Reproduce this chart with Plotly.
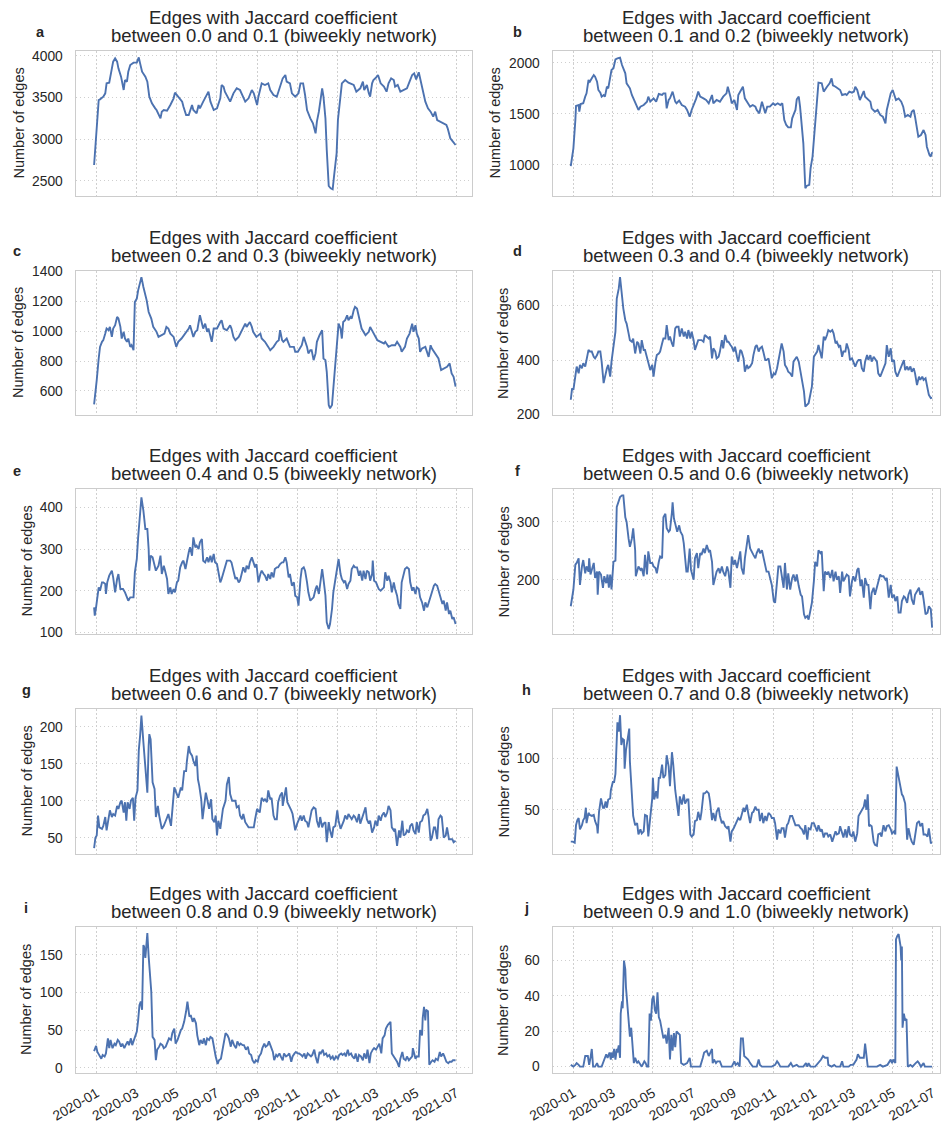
import pandas as pd
import plotly.graph_objects as go

W, H = 943, 1128
START = pd.Timestamp("2019-12-28")

# (day offset from START, number of edges)
edges_00_01 = [(0, 2688), (2, 2908), (4, 3128), (7, 3468), (9, 3476), (14, 3508), (17, 3548), (19, 3668), (23, 3676), (27, 3868), (29, 3928), (32, 3968), (35, 3928), (37, 3848), (41, 3748), (45, 3588), (47, 3708), (50, 3688), (52, 3808), (55, 3888), (60, 3916), (65, 3916), (68, 3980), (70, 3908), (73, 3808), (78, 3748), (81, 3688), (84, 3508), (88, 3428), (93, 3368), (95, 3348), (101, 3248), (103, 3328), (106, 3348), (111, 3340), (116, 3408), (121, 3488), (123, 3556), (126, 3528), (131, 3468), (134, 3448), (136, 3388), (140, 3288), (144, 3288), (149, 3408), (151, 3348), (156, 3308), (159, 3408), (161, 3368), (166, 3448), (172, 3548), (174, 3568), (177, 3448), (182, 3348), (187, 3368), (192, 3488), (194, 3648), (197, 3628), (199, 3568), (205, 3468), (207, 3448), (212, 3548), (217, 3608), (222, 3588), (225, 3528), (230, 3448), (235, 3488), (240, 3588), (243, 3548), (248, 3408), (250, 3508), (253, 3628), (255, 3668), (260, 3648), (265, 3668), (268, 3588), (273, 3528), (278, 3508), (283, 3648), (287, 3728), (291, 3768), (293, 3688), (298, 3668), (301, 3548), (306, 3508), (311, 3548), (314, 3668), (318, 3668), (321, 3528), (324, 3348), (329, 3248), (333, 3188), (337, 3068), (339, 3208), (342, 3328), (344, 3428), (347, 3608), (349, 3508), (352, 3248), (354, 2868), (357, 2436), (360, 2408), (363, 2396), (365, 2548), (369, 2828), (371, 3228), (375, 3508), (377, 3668), (382, 3708), (387, 3676), (395, 3648), (399, 3568), (405, 3608), (409, 3688), (411, 3588), (415, 3648), (418, 3548), (420, 3508), (423, 3668), (425, 3708), (428, 3728), (432, 3768), (436, 3668), (441, 3628), (445, 3568), (448, 3668), (452, 3728), (456, 3708), (458, 3628), (462, 3648), (466, 3568), (471, 3588), (476, 3608), (480, 3688), (484, 3768), (487, 3788), (490, 3716), (494, 3800), (497, 3688), (501, 3528), (504, 3448), (508, 3368), (512, 3328), (516, 3268), (519, 3328), (522, 3228), (527, 3208), (532, 3188), (536, 3168), (538, 3128), (542, 3008), (546, 2968), (550, 2928)]

edges_01_02 = [(0, 990), (2, 1098), (4, 1163), (7, 1440), (8, 1577), (12, 1586), (13, 1521), (15, 1596), (19, 1603), (22, 1668), (24, 1700), (27, 1831), (29, 1814), (32, 1847), (35, 1879), (37, 1863), (40, 1814), (42, 1733), (45, 1707), (47, 1668), (50, 1684), (52, 1668), (55, 1765), (57, 1749), (60, 1847), (62, 1928), (65, 1945), (68, 2033), (71, 2042), (75, 2049), (78, 1977), (83, 1896), (85, 1798), (90, 1749), (93, 1684), (98, 1619), (103, 1538), (106, 1570), (111, 1586), (116, 1619), (118, 1668), (121, 1619), (126, 1651), (130, 1619), (134, 1694), (139, 1684), (141, 1700), (144, 1700), (146, 1554), (149, 1635), (151, 1651), (155, 1717), (159, 1619), (161, 1603), (165, 1629), (169, 1586), (174, 1570), (177, 1538), (181, 1472), (184, 1538), (187, 1586), (191, 1651), (194, 1717), (197, 1668), (202, 1651), (206, 1635), (210, 1603), (215, 1684), (217, 1603), (222, 1635), (227, 1619), (232, 1668), (237, 1700), (239, 1765), (243, 1668), (245, 1603), (249, 1635), (253, 1538), (255, 1684), (259, 1733), (262, 1765), (265, 1651), (269, 1603), (273, 1570), (277, 1586), (281, 1570), (283, 1538), (287, 1505), (291, 1619), (293, 1570), (296, 1505), (299, 1570), (303, 1570), (308, 1603), (311, 1586), (315, 1603), (319, 1586), (322, 1603), (325, 1440), (328, 1391), (331, 1368), (335, 1368), (337, 1456), (339, 1489), (342, 1538), (344, 1642), (347, 1668), (349, 1570), (352, 1375), (354, 1212), (357, 772), (359, 795), (363, 805), (365, 967), (368, 1082), (371, 1310), (374, 1538), (376, 1733), (377, 1805), (382, 1798), (385, 1717), (390, 1765), (394, 1798), (397, 1847), (399, 1779), (403, 1765), (406, 1749), (410, 1733), (413, 1684), (418, 1694), (420, 1684), (424, 1717), (428, 1707), (431, 1717), (433, 1765), (436, 1733), (440, 1635), (443, 1684), (446, 1723), (448, 1668), (451, 1651), (456, 1619), (458, 1554), (463, 1521), (467, 1538), (471, 1489), (475, 1472), (479, 1407), (481, 1538), (484, 1635), (487, 1700), (490, 1733), (492, 1684), (495, 1635), (499, 1651), (503, 1619), (506, 1570), (509, 1472), (513, 1489), (517, 1472), (519, 1521), (522, 1538), (524, 1472), (527, 1358), (529, 1277), (533, 1293), (537, 1342), (540, 1293), (542, 1179), (546, 1098), (548, 1082), (550, 1125)]

edges_02_03 = [(0, 509), (2, 583), (4, 672), (7, 817), (9, 895), (12, 929), (14, 940), (17, 984), (19, 1018), (22, 1007), (24, 1029), (27, 962), (29, 1018), (32, 1040), (35, 1096), (37, 1085), (40, 1029), (42, 951), (45, 996), (47, 951), (50, 929), (52, 951), (55, 895), (57, 906), (60, 873), (62, 1196), (65, 1219), (67, 1274), (70, 1330), (72, 1363), (75, 1297), (78, 1241), (80, 1207), (83, 1129), (85, 1107), (87, 1085), (90, 1029), (93, 1007), (95, 996), (98, 962), (103, 973), (107, 984), (110, 1029), (113, 1018), (116, 984), (121, 962), (125, 895), (128, 929), (133, 951), (139, 984), (144, 1018), (146, 1040), (149, 984), (151, 962), (154, 996), (157, 1007), (161, 1107), (164, 1051), (166, 1018), (169, 1051), (172, 996), (174, 1018), (179, 929), (182, 1018), (187, 1018), (192, 1062), (194, 1074), (197, 1018), (202, 1007), (207, 1040), (209, 1018), (212, 962), (215, 940), (220, 962), (225, 1007), (230, 1051), (232, 1029), (237, 1062), (240, 1029), (242, 996), (247, 962), (253, 984), (255, 951), (260, 929), (265, 895), (268, 873), (273, 895), (278, 929), (281, 940), (283, 1007), (286, 940), (288, 929), (293, 951), (298, 895), (304, 895), (306, 862), (310, 862), (314, 895), (316, 906), (319, 962), (321, 940), (324, 895), (326, 851), (329, 873), (331, 873), (334, 806), (337, 851), (339, 929), (343, 973), (347, 1007), (349, 817), (352, 806), (354, 728), (357, 505), (359, 483), (362, 505), (364, 616), (367, 795), (370, 984), (372, 1051), (375, 1018), (377, 951), (379, 1062), (382, 1074), (385, 1107), (387, 1074), (390, 1096), (392, 1085), (395, 1140), (397, 1163), (400, 1152), (402, 1107), (405, 1051), (407, 1018), (413, 973), (418, 996), (420, 1029), (423, 1007), (428, 962), (431, 940), (436, 929), (441, 918), (443, 929), (448, 895), (453, 906), (458, 906), (461, 929), (466, 895), (468, 862), (473, 895), (476, 951), (480, 984), (484, 1051), (486, 996), (489, 1040), (491, 984), (494, 951), (496, 862), (499, 884), (504, 895), (509, 828), (512, 906), (514, 884), (519, 851), (524, 817), (528, 739), (532, 750), (537, 761), (541, 784), (544, 717), (547, 694), (550, 628)]

edges_03_04 = [(0, 254), (2, 296), (4, 290), (7, 333), (9, 376), (12, 351), (14, 382), (17, 370), (19, 388), (22, 376), (24, 406), (27, 437), (29, 431), (32, 431), (35, 412), (37, 406), (40, 418), (42, 431), (45, 431), (47, 394), (50, 315), (52, 339), (55, 370), (57, 382), (60, 339), (62, 394), (65, 455), (68, 504), (70, 626), (73, 662), (75, 705), (78, 626), (80, 589), (83, 546), (85, 534), (88, 498), (90, 473), (93, 467), (95, 479), (98, 424), (101, 467), (103, 461), (106, 424), (108, 473), (111, 437), (113, 437), (116, 412), (118, 394), (121, 363), (124, 382), (126, 339), (129, 394), (131, 418), (134, 424), (136, 431), (139, 461), (141, 479), (144, 479), (146, 528), (149, 473), (151, 486), (154, 461), (156, 449), (159, 516), (161, 522), (164, 522), (166, 486), (169, 516), (172, 486), (174, 504), (177, 479), (179, 510), (182, 479), (184, 504), (187, 473), (189, 437), (194, 473), (199, 473), (202, 467), (204, 492), (210, 479), (212, 486), (215, 406), (217, 443), (220, 431), (222, 406), (225, 412), (227, 431), (230, 473), (232, 443), (235, 492), (238, 467), (240, 467), (243, 455), (245, 449), (248, 431), (250, 449), (253, 412), (255, 394), (258, 437), (260, 431), (263, 406), (265, 357), (268, 382), (270, 370), (273, 376), (276, 388), (278, 418), (281, 449), (283, 455), (286, 431), (288, 443), (291, 449), (293, 431), (296, 400), (298, 400), (301, 406), (304, 363), (306, 333), (309, 351), (311, 345), (314, 370), (316, 400), (319, 437), (321, 461), (324, 431), (326, 382), (329, 370), (331, 357), (334, 351), (337, 339), (339, 394), (342, 406), (344, 412), (347, 394), (350, 351), (352, 321), (355, 284), (357, 229), (360, 238), (362, 241), (365, 278), (367, 302), (370, 412), (372, 418), (375, 431), (377, 455), (380, 431), (382, 406), (385, 486), (387, 473), (390, 492), (392, 510), (395, 504), (398, 510), (400, 498), (403, 461), (405, 467), (408, 449), (410, 455), (413, 412), (415, 431), (418, 431), (420, 461), (423, 437), (425, 400), (428, 406), (430, 394), (433, 376), (436, 394), (438, 400), (441, 400), (443, 370), (446, 357), (448, 394), (451, 418), (453, 400), (456, 418), (458, 394), (461, 412), (463, 406), (466, 394), (468, 351), (471, 339), (473, 351), (476, 370), (479, 388), (481, 455), (484, 412), (487, 443), (489, 394), (492, 400), (494, 357), (497, 339), (499, 351), (502, 363), (504, 382), (507, 400), (509, 363), (512, 376), (514, 363), (517, 376), (519, 357), (522, 370), (524, 351), (527, 308), (530, 339), (532, 327), (535, 339), (537, 327), (540, 333), (543, 302), (545, 272), (548, 260), (550, 262)]

edges_04_05 = [(0, 160), (1, 140), (3, 160), (5, 192), (7, 208), (9, 200), (12, 220), (14, 220), (17, 216), (18, 192), (20, 220), (23, 236), (27, 248), (29, 232), (32, 196), (35, 228), (37, 240), (40, 204), (44, 204), (47, 196), (50, 184), (52, 176), (55, 184), (60, 184), (62, 244), (65, 276), (67, 328), (70, 384), (72, 424), (75, 392), (78, 348), (81, 348), (83, 300), (84, 248), (86, 284), (89, 280), (92, 260), (94, 248), (98, 260), (101, 284), (103, 240), (106, 260), (108, 248), (111, 228), (113, 192), (116, 208), (118, 192), (121, 204), (123, 196), (126, 220), (128, 224), (131, 256), (134, 268), (136, 272), (139, 252), (141, 272), (144, 292), (146, 304), (149, 284), (151, 328), (154, 304), (156, 308), (159, 300), (161, 316), (164, 324), (166, 272), (169, 268), (172, 280), (174, 268), (177, 284), (179, 268), (182, 288), (184, 268), (187, 264), (189, 244), (192, 220), (194, 228), (197, 244), (199, 256), (202, 272), (207, 272), (209, 268), (212, 248), (215, 228), (217, 232), (220, 220), (222, 224), (225, 248), (227, 256), (230, 244), (232, 260), (235, 252), (237, 268), (240, 280), (242, 272), (245, 256), (247, 264), (250, 220), (253, 240), (255, 248), (258, 240), (260, 236), (263, 224), (265, 240), (268, 228), (270, 244), (273, 232), (275, 252), (278, 256), (280, 256), (283, 264), (286, 268), (288, 268), (291, 280), (293, 268), (296, 232), (298, 240), (301, 212), (304, 220), (306, 188), (309, 184), (311, 164), (314, 228), (316, 252), (319, 256), (321, 248), (324, 220), (326, 196), (329, 176), (331, 180), (334, 184), (337, 204), (339, 212), (342, 192), (344, 212), (347, 252), (349, 228), (352, 188), (354, 124), (357, 108), (359, 120), (362, 156), (364, 196), (367, 228), (370, 256), (372, 276), (375, 240), (377, 228), (380, 220), (382, 224), (385, 204), (387, 216), (390, 224), (392, 252), (395, 260), (397, 256), (400, 256), (403, 236), (405, 248), (408, 224), (410, 248), (413, 228), (415, 248), (418, 244), (420, 224), (423, 240), (424, 272), (426, 224), (429, 220), (433, 204), (436, 200), (441, 208), (443, 244), (446, 224), (448, 236), (451, 220), (453, 196), (456, 220), (458, 204), (461, 188), (463, 168), (466, 156), (468, 220), (471, 240), (473, 252), (476, 256), (479, 252), (481, 220), (484, 200), (486, 208), (489, 192), (491, 208), (494, 204), (496, 184), (499, 172), (502, 152), (504, 172), (507, 160), (509, 172), (512, 188), (514, 196), (517, 212), (519, 216), (522, 212), (524, 200), (527, 184), (530, 168), (532, 176), (535, 152), (537, 172), (540, 144), (542, 152), (545, 132), (547, 136), (550, 120)]

edges_05_06 = [(0, 154), (2, 171), (4, 183), (7, 226), (9, 229), (12, 237), (14, 191), (17, 223), (19, 234), (22, 211), (24, 223), (27, 214), (28, 237), (30, 209), (32, 217), (35, 229), (37, 203), (40, 214), (41, 174), (43, 214), (46, 209), (49, 186), (51, 206), (54, 194), (56, 209), (58, 186), (60, 209), (62, 183), (65, 231), (68, 233), (70, 326), (73, 337), (75, 343), (78, 346), (80, 346), (83, 308), (85, 300), (88, 271), (90, 257), (93, 271), (95, 289), (98, 251), (99, 206), (103, 223), (106, 217), (108, 220), (111, 206), (113, 243), (116, 209), (118, 249), (121, 229), (124, 229), (126, 223), (129, 220), (131, 211), (134, 231), (136, 240), (139, 237), (141, 308), (144, 314), (146, 289), (149, 283), (151, 286), (154, 317), (155, 334), (157, 306), (160, 294), (162, 283), (165, 294), (167, 283), (170, 277), (172, 263), (176, 214), (178, 214), (181, 254), (183, 217), (187, 200), (189, 237), (192, 246), (194, 220), (197, 246), (199, 243), (202, 254), (204, 246), (207, 260), (210, 249), (212, 251), (215, 231), (217, 191), (220, 203), (222, 214), (225, 220), (227, 211), (230, 223), (232, 214), (235, 206), (238, 223), (240, 214), (243, 186), (245, 240), (248, 226), (250, 234), (253, 220), (255, 231), (258, 249), (260, 220), (263, 209), (265, 237), (268, 257), (270, 277), (273, 254), (276, 246), (278, 243), (281, 237), (283, 246), (286, 254), (288, 246), (291, 251), (293, 240), (296, 226), (298, 214), (301, 214), (304, 197), (306, 191), (309, 163), (311, 160), (314, 197), (316, 223), (319, 223), (321, 211), (324, 186), (326, 229), (329, 183), (331, 211), (334, 183), (337, 203), (339, 209), (342, 197), (344, 209), (347, 189), (350, 174), (352, 171), (355, 140), (357, 134), (360, 137), (362, 131), (365, 149), (367, 160), (370, 197), (372, 231), (375, 223), (377, 251), (380, 246), (382, 249), (385, 180), (387, 214), (390, 209), (392, 214), (395, 203), (398, 217), (400, 197), (403, 214), (405, 200), (408, 206), (410, 177), (413, 214), (415, 197), (418, 203), (420, 209), (423, 206), (425, 171), (428, 197), (430, 206), (433, 197), (436, 217), (438, 220), (441, 189), (443, 200), (446, 169), (448, 203), (451, 191), (453, 191), (456, 149), (458, 177), (461, 186), (463, 174), (466, 189), (468, 197), (471, 209), (473, 206), (476, 206), (479, 200), (481, 203), (484, 169), (487, 191), (489, 169), (492, 174), (494, 163), (497, 171), (499, 143), (502, 143), (504, 163), (507, 171), (509, 169), (512, 160), (514, 174), (517, 183), (519, 166), (522, 157), (524, 174), (527, 180), (530, 186), (532, 174), (535, 180), (537, 166), (540, 140), (543, 143), (545, 154), (548, 149), (550, 117)]

edges_06_07 = [(0, 36), (2, 50), (4, 53), (6, 80), (8, 64), (12, 62), (14, 66), (17, 78), (19, 60), (22, 78), (24, 87), (27, 78), (29, 82), (32, 80), (35, 93), (37, 89), (40, 98), (42, 100), (45, 84), (47, 98), (49, 73), (51, 98), (54, 89), (56, 100), (59, 104), (61, 73), (63, 104), (66, 114), (68, 168), (70, 188), (72, 215), (75, 179), (78, 140), (79, 125), (81, 111), (83, 174), (84, 190), (86, 183), (89, 125), (92, 116), (94, 78), (97, 93), (99, 80), (103, 62), (106, 66), (110, 75), (113, 82), (117, 66), (120, 98), (122, 118), (125, 111), (128, 104), (132, 118), (134, 114), (137, 140), (140, 140), (141, 152), (144, 174), (146, 165), (149, 161), (151, 154), (154, 147), (156, 161), (158, 129), (160, 120), (163, 102), (165, 75), (168, 102), (170, 111), (173, 98), (175, 89), (178, 102), (180, 75), (183, 71), (185, 80), (187, 53), (189, 73), (192, 62), (196, 89), (200, 100), (202, 122), (205, 132), (207, 109), (210, 100), (215, 100), (217, 91), (220, 93), (222, 80), (225, 75), (227, 82), (230, 71), (235, 64), (240, 64), (243, 64), (245, 75), (248, 89), (252, 84), (255, 104), (258, 100), (260, 102), (263, 98), (265, 114), (268, 102), (270, 104), (273, 80), (275, 75), (278, 75), (280, 98), (283, 107), (286, 111), (287, 93), (289, 102), (292, 118), (294, 98), (297, 93), (300, 87), (302, 82), (306, 60), (309, 69), (311, 73), (314, 80), (316, 73), (319, 80), (321, 73), (324, 71), (326, 64), (329, 78), (331, 87), (334, 91), (337, 89), (339, 73), (342, 64), (344, 78), (347, 64), (349, 69), (352, 71), (354, 44), (357, 71), (359, 60), (362, 50), (364, 64), (367, 66), (370, 87), (372, 73), (375, 62), (377, 66), (380, 73), (382, 80), (385, 75), (387, 82), (390, 78), (392, 75), (395, 80), (397, 78), (400, 71), (403, 82), (405, 69), (408, 78), (410, 82), (413, 91), (415, 75), (418, 69), (420, 73), (423, 57), (426, 64), (428, 73), (431, 66), (433, 80), (436, 73), (438, 80), (441, 84), (443, 78), (446, 84), (448, 93), (451, 87), (453, 64), (456, 60), (458, 62), (461, 39), (464, 60), (466, 50), (469, 73), (471, 53), (474, 55), (476, 60), (479, 57), (481, 66), (484, 69), (486, 60), (489, 55), (491, 71), (494, 57), (496, 71), (499, 73), (501, 80), (504, 82), (507, 89), (509, 78), (512, 46), (514, 50), (517, 64), (519, 64), (522, 48), (524, 75), (527, 80), (529, 78), (532, 50), (535, 53), (537, 64), (540, 48), (542, 48), (545, 48), (547, 44), (550, 46)]

edges_07_08 = [(0, 19), (3, 19), (6, 18), (8, 35), (10, 40), (12, 42), (14, 31), (17, 35), (19, 40), (21, 42), (23, 52), (24, 37), (27, 47), (29, 45), (32, 44), (35, 45), (37, 39), (40, 34), (41, 27), (43, 48), (46, 61), (49, 52), (51, 52), (53, 58), (55, 52), (57, 60), (60, 61), (61, 69), (64, 77), (66, 77), (68, 85), (69, 100), (71, 135), (73, 126), (75, 142), (77, 113), (79, 119), (81, 118), (82, 90), (84, 108), (86, 118), (89, 129), (90, 97), (93, 66), (95, 44), (98, 35), (101, 37), (103, 26), (106, 31), (108, 27), (111, 29), (113, 45), (116, 44), (118, 24), (121, 42), (124, 61), (125, 81), (127, 60), (130, 68), (132, 61), (134, 81), (136, 81), (139, 94), (141, 81), (144, 84), (146, 103), (149, 92), (151, 73), (154, 106), (156, 94), (159, 69), (161, 58), (164, 44), (166, 63), (169, 55), (172, 65), (174, 56), (177, 60), (179, 60), (182, 26), (184, 24), (187, 26), (189, 39), (192, 40), (194, 48), (197, 40), (199, 48), (202, 66), (204, 66), (207, 68), (210, 66), (212, 58), (215, 40), (217, 47), (220, 39), (222, 48), (225, 52), (227, 44), (230, 37), (232, 39), (235, 34), (238, 32), (240, 34), (243, 19), (245, 29), (248, 32), (250, 35), (253, 40), (255, 42), (258, 40), (260, 45), (263, 52), (265, 48), (268, 55), (270, 47), (273, 37), (276, 47), (278, 48), (281, 53), (283, 50), (286, 50), (288, 39), (291, 47), (293, 37), (296, 44), (298, 39), (301, 47), (304, 45), (306, 42), (309, 42), (311, 37), (314, 21), (316, 31), (319, 27), (321, 32), (324, 32), (326, 23), (329, 35), (331, 37), (334, 44), (337, 44), (339, 40), (342, 35), (344, 35), (347, 35), (350, 32), (352, 31), (355, 26), (357, 35), (360, 21), (362, 32), (365, 31), (367, 37), (370, 37), (372, 34), (375, 29), (377, 35), (380, 29), (382, 31), (385, 23), (387, 27), (390, 27), (392, 24), (395, 26), (398, 19), (400, 24), (403, 29), (405, 26), (408, 27), (410, 34), (413, 26), (415, 23), (418, 31), (420, 23), (423, 34), (425, 26), (428, 24), (430, 29), (433, 19), (436, 27), (438, 44), (441, 47), (443, 50), (446, 53), (448, 60), (450, 50), (452, 65), (454, 34), (456, 35), (458, 34), (461, 19), (463, 16), (466, 15), (468, 26), (471, 27), (473, 24), (476, 35), (479, 29), (481, 34), (484, 35), (487, 31), (489, 27), (492, 29), (494, 26), (496, 92), (497, 89), (499, 82), (501, 74), (504, 65), (506, 63), (509, 56), (512, 21), (514, 32), (517, 23), (519, 19), (522, 16), (524, 26), (527, 37), (530, 39), (532, 34), (535, 37), (537, 26), (540, 26), (543, 24), (545, 32), (548, 18), (550, 18)]

edges_08_09 = [(0, 22), (2, 26), (3, 29), (5, 21), (8, 17), (11, 12), (13, 17), (16, 15), (18, 19), (21, 39), (23, 26), (25, 37), (28, 26), (31, 32), (33, 30), (36, 37), (38, 35), (41, 28), (43, 32), (46, 26), (48, 30), (51, 35), (53, 30), (56, 39), (58, 30), (61, 39), (63, 43), (65, 48), (67, 63), (69, 83), (71, 88), (73, 77), (75, 163), (76, 161), (78, 146), (79, 154), (81, 179), (83, 148), (85, 123), (87, 101), (89, 41), (92, 37), (94, 10), (96, 24), (99, 28), (101, 32), (104, 30), (106, 26), (109, 28), (112, 35), (114, 39), (117, 37), (119, 46), (122, 52), (124, 32), (127, 37), (129, 43), (132, 50), (134, 52), (137, 61), (140, 75), (142, 88), (145, 68), (147, 70), (150, 61), (152, 66), (155, 59), (157, 43), (160, 30), (162, 37), (165, 32), (167, 39), (170, 30), (172, 39), (175, 37), (177, 41), (180, 39), (183, 24), (185, 15), (188, 5), (190, 10), (193, 12), (195, 21), (198, 35), (200, 46), (203, 43), (205, 39), (208, 28), (210, 37), (213, 30), (216, 26), (218, 35), (221, 30), (223, 32), (226, 30), (228, 30), (231, 24), (234, 28), (236, 19), (239, 17), (241, 10), (244, 6), (246, 10), (249, 8), (251, 15), (254, 19), (256, 26), (259, 32), (261, 28), (264, 30), (266, 35), (269, 28), (272, 21), (274, 10), (277, 17), (279, 15), (282, 19), (284, 15), (287, 10), (289, 19), (292, 15), (295, 17), (297, 19), (300, 8), (302, 15), (305, 19), (307, 21), (310, 19), (312, 19), (315, 17), (317, 15), (320, 19), (322, 12), (325, 19), (327, 17), (330, 15), (332, 17), (335, 24), (337, 15), (340, 6), (343, 21), (345, 19), (348, 24), (350, 17), (353, 19), (355, 15), (358, 17), (360, 12), (363, 15), (365, 10), (368, 15), (371, 12), (373, 17), (376, 19), (378, 17), (381, 19), (383, 15), (386, 24), (388, 17), (391, 19), (393, 15), (396, 12), (398, 19), (401, 8), (403, 17), (406, 15), (409, 10), (411, 19), (414, 12), (416, 24), (419, 6), (421, 19), (424, 24), (426, 26), (429, 24), (431, 28), (434, 32), (437, 19), (439, 39), (442, 43), (444, 52), (447, 57), (449, 59), (451, 61), (453, 19), (456, 15), (459, 10), (461, 8), (464, 1), (466, 12), (469, 21), (471, 12), (474, 10), (476, 15), (479, 10), (481, 12), (484, 15), (485, 26), (487, 19), (489, 12), (491, 15), (494, 15), (496, 50), (499, 43), (500, 66), (502, 81), (504, 63), (505, 77), (508, 75), (510, 4), (513, 8), (515, 10), (518, 8), (520, 12), (523, 10), (526, 21), (528, 15), (531, 19), (533, 15), (536, 8), (539, 6), (541, 8), (544, 8), (546, 10), (550, 10)]

edges_09_10 = [(0, 1), (4, 0), (7, 1), (9, 2), (12, 1), (14, 0), (19, 0), (22, 6), (26, 6), (28, 1), (30, 5), (32, 10), (34, 0), (37, 0), (40, 2), (42, 0), (47, 0), (51, 4), (54, 7), (56, 5), (59, 8), (61, 4), (62, 8), (64, 5), (66, 10), (68, 4), (70, 10), (71, 8), (73, 12), (75, 5), (76, 30), (78, 37), (79, 33), (81, 60), (83, 55), (84, 45), (86, 36), (87, 30), (89, 22), (90, 17), (92, 22), (94, 11), (96, 2), (98, 5), (101, 2), (103, 3), (106, 1), (108, 0), (112, 3), (114, 2), (116, 0), (118, 0), (120, 30), (122, 26), (124, 38), (126, 40), (128, 32), (130, 30), (132, 42), (134, 28), (136, 26), (139, 19), (141, 16), (144, 18), (146, 13), (149, 22), (151, 4), (153, 18), (155, 9), (157, 19), (159, 11), (161, 20), (164, 19), (166, 18), (168, 2), (172, 1), (177, 2), (181, 5), (183, 0), (189, 0), (197, 0), (201, 5), (203, 8), (207, 9), (210, 6), (215, 10), (216, 2), (218, 4), (221, 2), (223, 3), (227, 3), (230, 0), (238, 0), (245, 0), (249, 3), (251, 1), (254, 2), (257, 0), (259, 16), (262, 16), (264, 6), (267, 5), (270, 4), (273, 2), (277, 0), (283, 0), (286, 4), (288, 1), (291, 0), (298, 0), (306, 0), (311, 1), (314, 3), (316, 2), (319, 0), (331, 0), (335, 2), (338, 0), (344, 1), (347, 0), (354, 0), (358, 2), (360, 0), (362, 2), (365, 0), (372, 0), (377, 2), (381, 4), (384, 6), (387, 5), (391, 5), (392, 1), (397, 0), (401, 1), (404, 0), (410, 0), (413, 3), (415, 0), (423, 0), (426, 1), (430, 1), (435, 4), (437, 7), (440, 5), (443, 5), (446, 5), (448, 13), (450, 4), (452, 0), (458, 0), (466, 0), (471, 1), (475, 0), (482, 1), (485, 3), (487, 4), (489, 2), (491, 4), (494, 2), (495, 72), (497, 74), (499, 75), (502, 68), (503, 60), (504, 68), (505, 22), (507, 30), (509, 26), (511, 27), (513, 0), (517, 1), (520, 0), (525, 2), (528, 3), (530, 2), (533, 0), (537, 2), (539, 0), (545, 0), (550, 0)]

series = [edges_00_01, edges_01_02, edges_02_03, edges_03_04, edges_04_05,
          edges_05_06, edges_06_07, edges_07_08, edges_08_09, edges_09_10]
bins = ["0.0 and 0.1", "0.1 and 0.2", "0.2 and 0.3", "0.3 and 0.4", "0.4 and 0.5",
        "0.5 and 0.6", "0.6 and 0.7", "0.7 and 0.8", "0.8 and 0.9", "0.9 and 1.0"]
letters = list("abcdefghij")
yticks = [[2500, 3000, 3500, 4000], [1000, 1500, 2000], [600, 800, 1000, 1200, 1400],
          [200, 400, 600], [100, 200, 300, 400], [200, 300], [50, 100, 150, 200],
          [50, 100], [0, 50, 100, 150], [0, 20, 40, 60]]
month_ticks = ["2020-01-01", "2020-03-01", "2020-05-01", "2020-07-01", "2020-09-01",
               "2020-11-01", "2021-01-01", "2021-03-01", "2021-05-01", "2021-07-01"]
month_labels = [m[:7] for m in month_ticks]

# layout in pixels
row_top = [51, 271, 489, 709, 927]
row_bot = [196, 415, 634, 854, 1073]
col_left = [75.7, 552.7]
col_right = [472, 940]
x_ranges = [["2019-11-30", "2021-07-25"], ["2019-11-30 12:00", "2021-07-12"]]
y_ranges = [[2316, 4056], [697, 2114], [438, 1404], [198, 727], [96, 444],
            [106, 357], [28, 224], [7, 148], [-7, 187], [-3.6, 79]]
ylabel_x = [18, 494, 18, 503, 26, 503, 26, 503, 26, 503]
letter_xy = [(40, 32), (517, 32), (17, 251), (517, 251), (17, 471),
             (517, 471), (26, 690), (526, 690), (26, 908), (526, 908)]

FONT = "Arial, Liberation Sans, sans-serif"
TXT = "#262626"
GRID = "#cfcfcf"
FRAME = "#cccccc"


def px(x):
    return x / W


def py(y):
    return 1 - y / H


fig = go.Figure()
annotations = []

for i, data in enumerate(series):
    r, c = divmod(i, 2)
    k = "" if i == 0 else str(i + 1)
    days = [d for d, _ in data]
    vals = [v for _, v in data]
    dates = START + pd.to_timedelta(days, unit="D")
    fig.add_trace(go.Scatter(x=dates, y=vals, mode="lines", xaxis="x" + k, yaxis="y" + k,
                             line=dict(color="#4c72b0", width=1.9), showlegend=False,
                             hoverinfo="skip"))
    fig.layout["xaxis" + k] = dict(
        domain=[px(col_left[c]), px(col_right[c])], anchor="y" + k, type="date",
        range=x_ranges[c], tickvals=month_ticks, ticktext=month_labels, automargin=False,
        showticklabels=(r == 4), tickangle=-30, ticks="", ticklabelstandoff=6,
        tickfont=dict(family=FONT, size=13.8, color=TXT),
        showgrid=True, gridcolor=GRID, griddash="1.5px,2.5px", gridwidth=1,
        showline=True, mirror=True, linecolor=FRAME, linewidth=1.3, zeroline=False)
    fig.layout["yaxis" + k] = dict(
        domain=[py(row_bot[r]), py(row_top[r])], anchor="x" + k, automargin=False,
        range=y_ranges[i], tickvals=yticks[i], ticks="", ticklabelstandoff=9,
        tickfont=dict(family=FONT, size=13.8, color=TXT),
        showgrid=True, gridcolor=GRID, griddash="1.5px,2.5px", gridwidth=1,
        showline=True, mirror=True, linecolor=FRAME, linewidth=1.3, zeroline=False)

    cx = (col_left[c] + col_right[c]) / 2
    annotations.append(dict(x=px(cx), y=py(row_top[r] - 34), xref="paper", yref="paper",
                            text="Edges with Jaccard coefficient", showarrow=False,
                            xanchor="center", yanchor="middle",
                            font=dict(family=FONT, size=18.5, color=TXT)))
    annotations.append(dict(x=px(cx), y=py(row_top[r] - 16), xref="paper", yref="paper",
                            text="between " + bins[i] + " (biweekly network)", showarrow=False,
                            xanchor="center", yanchor="middle",
                            font=dict(family=FONT, size=18.5, color=TXT)))
    annotations.append(dict(x=px(ylabel_x[i]), y=py((row_top[r] + row_bot[r]) / 2),
                            xref="paper", yref="paper", text="Number of edges",
                            textangle=-90, showarrow=False, xanchor="center", yanchor="middle",
                            font=dict(family=FONT, size=14.5, color=TXT)))
    lx, ly = letter_xy[i]
    annotations.append(dict(x=px(lx), y=py(ly), xref="paper", yref="paper",
                            text="<b>" + letters[i] + "</b>", showarrow=False,
                            xanchor="center", yanchor="middle",
                            font=dict(family=FONT, size=14.5, color=TXT)))

fig.update_layout(width=W, height=H, margin=dict(l=0, r=0, t=0, b=0, autoexpand=False),
                  paper_bgcolor="white", plot_bgcolor="white",
                  annotations=annotations, showlegend=False)

# the page's default body margin would shift the figure by 8 px
fig.write_html("out.html", config={"displayModeBar": False},
               post_script="document.body.style.margin='0';")
